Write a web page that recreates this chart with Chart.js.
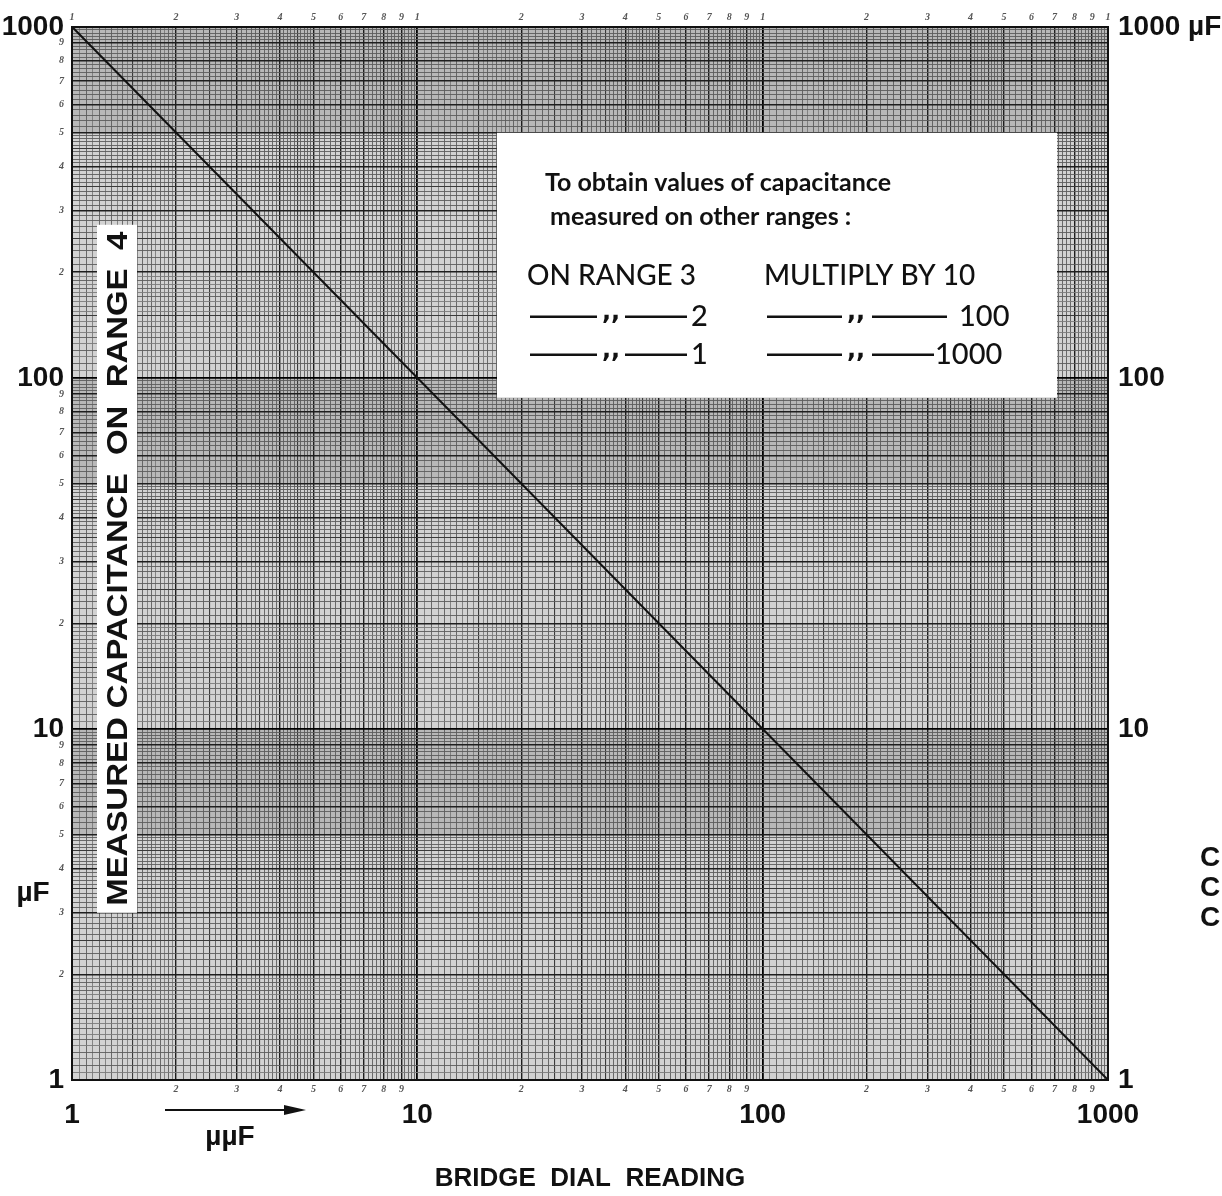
<!DOCTYPE html>
<html lang="en">
  <head>
    <meta charset="UTF-8" />
    <title>Bridge dial reading - capacitance</title>
    <script src="https://cdn.jsdelivr.net/npm/chart.js"></script>
    <style>
      body {
        margin: 0;
        background: #fff;
      }
      #chart {
        display: block;
      }
    </style>
  </head>
  <body>
    <canvas id="chart" width="1222" height="1196"></canvas>
    <script>
      // data
      const lineX = [1, 1000]; // bridge dial reading (µµF)
      const lineY = [1000, 1]; // measured capacitance on range 4 (µF)
      const decades = [1, 10, 100, 1000];
      const decadeLabels = ["1", "10", "100", "1000"];
      const rightLabels = ["1", "10", "100", "1000 µF"];
      const digitLabels = ["1", "2", "3", "4", "5", "6", "7", "8", "9"];

      // the log paper rulings
      function gridValues() {
        const vals = [];
        [1, 10, 100].forEach((d) => {
          let m = 100;
          while (m < 1000) {
            vals.push((d * m) / 100);
            m += m < 200 ? 5 : m < 500 ? 10 : 20;
          }
        });
        vals.push(1000);
        return vals;
      }

      function mant(v) {
        const p = Math.floor(Math.log10(v) + 1e-9);
        return Math.round((v / Math.pow(10, p)) * 100) / 100;
      }

      function isInt(x) {
        return Math.abs(x - Math.round(x)) < 1e-6;
      }

      function lineColor(ctx) {
        const v = ctx.tick ? ctx.tick.value : 1;
        const m = mant(v);
        if (m === 1) return "#000";
        if (isInt(m)) return "#1e1e1e";
        if (isInt(m * 2)) return "#3a3a3a";
        if (isInt(m * 10)) return "#5c5c5c";
        return "#7a7a7a";
      }

      function lineWidth(ctx) {
        const v = ctx.tick ? ctx.tick.value : 1;
        const m = mant(v);
        if (m === 1) return 1.8;
        if (isInt(m)) return 1.4;
        if (isInt(m * 2)) return 1.1;
        return 0.9;
      }

      const smallFont = { family: "'Liberation Serif', serif", size: 10, style: "italic", weight: "bold" };
      const bigFont = { family: "'Liberation Sans', Arial, sans-serif", size: 28, weight: "bold" };

      function digitLabel(v, withOne) {
        const m = mant(v);
        if (!isInt(m)) return "";
        if (m === 1 && !withOne) return "";
        return digitLabels[Math.round(m) - 1];
      }

      const paper = {
        id: "paper",
        beforeDraw(chart) {
          const a = chart.chartArea;
          const c = chart.ctx;
          const ys = chart.scales.y;
          c.save();
          c.fillStyle = "#d2d2d2";
          c.fillRect(a.left, a.top, a.right - a.left, a.bottom - a.top);
          // darker printed bands of the sheet
          c.fillStyle = "rgba(0,0,0,0.12)";
          [[5, 10], [50, 100], [500, 1000]].forEach((b) => {
            const y0 = ys.getPixelForValue(b[1]);
            const y1 = ys.getPixelForValue(b[0]);
            c.fillRect(a.left, y0, a.right - a.left, y1 - y0);
          });
          c.restore();
        },
        afterDraw(chart) {
          const c = chart.ctx;
          const a = chart.chartArea;
          c.save();

          // vertical label box
          const bx = a.left + 25, by = a.top + 198, bw = 40, bh = 688;
          c.fillStyle = "#fff";
          c.fillRect(bx, by, bw, bh);
          c.translate(bx + bw / 2 + 1, by + bh / 2);
          c.rotate(-Math.PI / 2);
          c.font = "bold 29px 'Liberation Sans', Arial, sans-serif";
          c.fillStyle = "#111";
          c.textAlign = "center";
          c.textBaseline = "middle";
          const label = "MEASURED CAPACITANCE  ON  RANGE  4";
          const tw = c.measureText(label).width;
          c.scale((bh - 14) / tw, 1);
          c.fillText(label, 0, 1);
          c.setTransform(1, 0, 0, 1, 0, 0);

          // note box
          const nx = a.left + 425, ny = a.top + 106, nw = 560, nh = 265;
          c.fillStyle = "#fff";
          c.fillRect(nx, ny, nw, nh);
          c.fillStyle = "#111";
          c.strokeStyle = "#111";
          c.textAlign = "left";
          c.textBaseline = "middle";
          c.font = "bold 25px 'Lato', 'Open Sans', sans-serif";
          c.fillText("To obtain values of capacitance", nx + 48, ny + 50);
          c.fillText("measured on other ranges :", nx + 53, ny + 84);
          c.font = "500 28px 'Lato', 'Open Sans', sans-serif";
          c.fillText("ON RANGE 3", nx + 30, ny + 143);
          c.fillText("MULTIPLY BY 10", nx + 267, ny + 143);

          const rows = [
            { y: ny + 184, a: "2", b: "100" },
            { y: ny + 222, a: "1", b: "1000" },
          ];
          c.lineWidth = 2.5;
          rows.forEach((r) => {
            c.beginPath();
            c.moveTo(nx + 33, r.y); c.lineTo(nx + 100, r.y);
            c.moveTo(nx + 128, r.y); c.lineTo(nx + 190, r.y);
            c.moveTo(nx + 270, r.y); c.lineTo(nx + 345, r.y);
            c.moveTo(nx + 375, r.y); c.lineTo(nx + (r.b === "100" ? 450 : 437), r.y);
            c.stroke();
            c.font = "bold 24px 'DejaVu Sans', sans-serif";
            c.fillText(",,", nx + 105, r.y - 4);
            c.fillText(",,", nx + 350, r.y - 4);
            c.font = "500 29px 'Lato', 'Open Sans', sans-serif";
            c.fillText(r.a, nx + 194, r.y);
            c.fillText(r.b, nx + (r.b === "100" ? 462 : 438), r.y);
          });

          // units and arrow
          c.font = "bold 28px 'Liberation Sans', Arial, sans-serif";
          c.textAlign = "center";
          c.fillText("µF", 33, a.top + 866);
          c.fillText("µµF", 230, 1137);
          c.lineWidth = 2;
          c.beginPath();
          c.moveTo(165, 1110);
          c.lineTo(292, 1110);
          c.stroke();
          c.beginPath();
          c.moveTo(306, 1110);
          c.lineTo(284, 1105);
          c.lineTo(284, 1115);
          c.closePath();
          c.fill();

          // clipped text at the right edge
          c.textAlign = "left";
          c.fillText("C", 1200, 858);
          c.fillText("C", 1200, 888);
          c.fillText("C", 1200, 918);
          c.restore();
        },
      };

      new Chart(document.getElementById("chart"), {
        type: "scatter",
        data: {
          datasets: [
            {
              data: lineX.map((x, i) => ({ x: x, y: lineY[i] })),
              showLine: true,
              borderColor: "#111",
              borderWidth: 2,
              pointRadius: 0,
              xAxisID: "x",
              yAxisID: "y",
            },
          ],
        },
        options: {
          responsive: false,
          animation: false,
          layout: { padding: 0 },
          plugins: { legend: { display: false }, tooltip: { enabled: false } },
          scales: {
            x: {
              type: "logarithmic",
              position: "bottom",
              weight: 0,
              min: 1,
              max: 1000,
              afterBuildTicks: (s) => { s.ticks = gridValues().map((v) => ({ value: v })); },
              afterFit: (s) => { s.height = 14; },
              grid: { color: lineColor, lineWidth: lineWidth, drawTicks: false },
              border: { display: true, color: "#111", width: 2 },
              ticks: {
                autoSkip: false,
                maxRotation: 0,
                padding: 3,
                font: smallFont,
                color: "#555",
                callback: (v) => digitLabel(v, false),
              },
            },
            xBig: {
              type: "logarithmic",
              position: "bottom",
              weight: 1,
              min: 1,
              max: 1000,
              afterBuildTicks: (s) => { s.ticks = decades.map((v) => ({ value: v })); },
              afterFit: (s) => { s.height = 102; },
              grid: { display: false, drawTicks: false },
              border: { display: false },
              ticks: {
                autoSkip: false,
                maxRotation: 0,
                padding: 4,
                font: bigFont,
                color: "#111",
                callback: (v, i) => decadeLabels[i],
              },
              title: {
                display: true,
                text: "BRIDGE  DIAL  READING",
                font: { family: "'Liberation Sans', Arial, sans-serif", size: 26, weight: "bold" },
                color: "#111",
                padding: { top: 0, bottom: 2 },
              },
            },
            xTop: {
              type: "logarithmic",
              position: "top",
              min: 1,
              max: 1000,
              afterBuildTicks: (s) => { s.ticks = gridValues().map((v) => ({ value: v })); },
              afterFit: (s) => { s.height = 24; },
              grid: { display: false, drawTicks: false },
              border: { display: true, color: "#111", width: 2 },
              ticks: {
                autoSkip: false,
                maxRotation: 0,
                padding: 3,
                font: smallFont,
                color: "#555",
                callback: (v) => digitLabel(v, true),
              },
            },
            y: {
              type: "logarithmic",
              position: "left",
              min: 1,
              max: 1000,
              afterBuildTicks: (s) => { s.ticks = gridValues().map((v) => ({ value: v })); },
              afterFit: (s) => { s.width = 72; },
              grid: { color: lineColor, lineWidth: lineWidth, drawTicks: false },
              border: { display: true, color: "#111", width: 2 },
              ticks: {
                autoSkip: false,
                padding: 8,
                font: (ctx) => (ctx.tick && mant(ctx.tick.value) === 1 ? bigFont : smallFont),
                color: (ctx) => (ctx.tick && mant(ctx.tick.value) === 1 ? "#111" : "#555"),
                callback: (v) => {
                  const k = decades.indexOf(v);
                  if (k >= 0) return decadeLabels[k];
                  return digitLabel(v, false);
                },
              },
            },
            yRight: {
              type: "logarithmic",
              position: "right",
              min: 1,
              max: 1000,
              afterBuildTicks: (s) => { s.ticks = decades.map((v) => ({ value: v })); },
              afterFit: (s) => { s.width = 114; },
              grid: { display: false, drawTicks: false },
              border: { display: true, color: "#111", width: 2 },
              ticks: {
                autoSkip: false,
                padding: 10,
                font: bigFont,
                color: "#111",
                callback: (v, i) => rightLabels[i],
              },
            },
          },
        },
        plugins: [paper],
      });
    </script>
  </body>
</html>
